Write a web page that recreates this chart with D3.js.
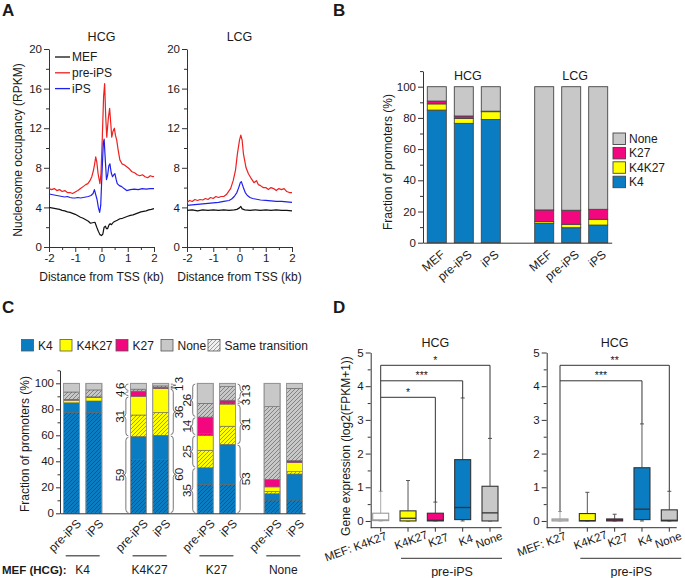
<!DOCTYPE html>
<html><head><meta charset="utf-8">
<script src="https://cdn.jsdelivr.net/npm/d3@7"></script>
<style>
body{margin:0;background:#fff;}
svg{font-family:"Liberation Sans",Arial,Helvetica,sans-serif;}
</style></head><body>
<svg id="chart" width="685" height="578"></svg>
<script>
// ---------------- DATA ----------------
// Panel A: nucleosome occupancy profiles [distance kb, RPKM]
const hcgMEF = [[-2,4.0],[-1.9,3.95],[-1.8,3.9],[-1.7,3.85],[-1.6,3.8],[-1.5,3.7],[-1.4,3.65],[-1.3,3.55],[-1.2,3.5],[-1.1,3.4],[-1.0,3.3],[-0.9,3.15],[-0.8,3.0],[-0.7,2.9],[-0.6,2.75],[-0.5,2.6],[-0.42,2.4],[-0.34,2.45],[-0.25,2.5],[-0.18,2.0],[-0.12,1.6],[-0.06,1.25],[0,1.15],[0.05,1.3],[0.1,2.0],[0.15,2.1],[0.19,1.85],[0.23,1.85],[0.28,2.2],[0.33,2.35],[0.38,2.25],[0.45,2.5],[0.52,2.6],[0.6,2.7],[0.7,2.85],[0.8,2.9],[0.9,3.0],[1.0,3.1],[1.1,3.2],[1.2,3.25],[1.3,3.35],[1.4,3.45],[1.5,3.55],[1.6,3.6],[1.7,3.65],[1.8,3.75],[1.9,3.8],[2.0,3.87]];
const hcgPre = [[-2,5.9],[-1.9,5.8],[-1.8,5.9],[-1.7,5.7],[-1.6,5.8],[-1.5,5.6],[-1.4,5.7],[-1.3,5.5],[-1.2,5.5],[-1.1,5.4],[-1.0,5.55],[-0.9,5.7],[-0.8,5.9],[-0.7,6.1],[-0.6,6.3],[-0.52,6.4],[-0.44,6.7],[-0.37,7.1],[-0.31,7.7],[-0.26,8.4],[-0.22,9.1],[-0.18,8.6],[-0.13,7.4],[-0.06,6.4],[-0.02,7.4],[0.03,11.0],[0.08,15.2],[0.12,16.5],[0.16,13.2],[0.2,11.1],[0.26,13.0],[0.31,14.0],[0.35,12.6],[0.39,11.1],[0.44,11.7],[0.49,12.0],[0.53,11.3],[0.58,10.8],[0.64,9.7],[0.7,8.8],[0.78,8.4],[0.86,8.3],[0.96,8.1],[1.06,7.9],[1.16,7.6],[1.26,7.5],[1.36,7.3],[1.46,7.2],[1.56,7.3],[1.66,7.1],[1.76,7.0],[1.86,7.2],[1.96,7.1],[2.0,7.15]];
const hcgIPS = [[-2,5.35],[-1.9,5.3],[-1.8,5.25],[-1.7,5.2],[-1.6,5.15],[-1.5,5.1],[-1.4,5.05],[-1.3,5.1],[-1.2,5.0],[-1.1,4.95],[-1.0,4.95],[-0.9,5.0],[-0.8,4.95],[-0.7,5.0],[-0.6,5.05],[-0.5,5.1],[-0.4,5.2],[-0.32,5.4],[-0.27,5.8],[-0.22,5.3],[-0.17,4.8],[-0.12,4.0],[-0.07,3.5],[-0.03,4.2],[0.02,7.5],[0.07,10.5],[0.1,10.9],[0.14,9.0],[0.19,6.8],[0.23,7.2],[0.28,8.2],[0.32,8.4],[0.37,7.5],[0.42,7.1],[0.47,7.3],[0.51,7.4],[0.56,6.8],[0.6,6.4],[0.68,6.2],[0.77,6.1],[0.86,5.9],[0.96,5.7],[1.1,5.8],[1.25,5.85],[1.4,5.8],[1.55,5.9],[1.7,5.85],[1.85,5.9],[2.0,5.9]];
const lcgMEF = [[-2,3.7],[-1.8,3.75],[-1.6,3.65],[-1.4,3.75],[-1.2,3.7],[-1.0,3.75],[-0.8,3.7],[-0.6,3.75],[-0.4,3.7],[-0.2,3.75],[-0.1,3.8],[0,3.95],[0.05,4.1],[0.1,3.85],[0.2,3.75],[0.4,3.7],[0.6,3.75],[0.8,3.7],[1.0,3.75],[1.2,3.7],[1.4,3.75],[1.6,3.7],[1.8,3.7],[2.0,3.65]];
const lcgPre = [[-2,4.5],[-1.9,4.7],[-1.8,4.6],[-1.7,4.8],[-1.6,4.7],[-1.5,4.8],[-1.4,4.75],[-1.3,4.9],[-1.2,4.8],[-1.1,5.0],[-1.0,4.9],[-0.9,5.1],[-0.8,5.0],[-0.7,5.1],[-0.6,5.1],[-0.5,5.3],[-0.42,5.6],[-0.34,5.9],[-0.24,6.7],[-0.15,7.8],[-0.08,9.4],[0.0,10.8],[0.05,11.3],[0.1,10.8],[0.15,9.4],[0.25,8.0],[0.34,7.4],[0.45,6.9],[0.55,6.5],[0.65,6.7],[0.72,6.3],[0.8,6.2],[0.9,6.0],[1.0,6.0],[1.1,5.8],[1.2,6.0],[1.3,5.9],[1.4,5.7],[1.5,5.9],[1.6,5.8],[1.7,5.9],[1.8,5.6],[1.9,5.5],[2.0,5.5]];
const lcgIPS = [[-2,4.2],[-1.8,4.25],[-1.6,4.3],[-1.4,4.35],[-1.2,4.4],[-1.0,4.45],[-0.8,4.5],[-0.6,4.6],[-0.4,4.7],[-0.3,4.85],[-0.2,5.1],[-0.1,5.5],[-0.03,6.0],[0.03,6.5],[0.07,6.6],[0.11,6.3],[0.16,5.9],[0.22,5.5],[0.3,5.2],[0.4,5.0],[0.5,4.9],[0.6,4.85],[0.8,4.75],[1.0,4.7],[1.2,4.65],[1.4,4.6],[1.6,4.6],[1.8,4.55],[2.0,4.5]];
const aSeriesNames = ["MEF","pre-iPS","iPS"];
const aXTicks = [-2,-1,0,1,2];
const aYTicks = [0,4,8,12,16,20];

// Panel B: fraction of promoters (%)
const bGroups = ["HCG","LCG"];
const bSamples = ["MEF","pre-iPS","iPS"];
const bHcgK4 = [85, 76.5, 79];
const bHcgK4K27 = [4, 3.2, 5];
const bHcgK27 = [1.8, 1.5, 0.3];
const bHcgNone = [9.2, 18.8, 15.7];
const bLcgK4 = [12.4, 9.6, 11.3];
const bLcgK4K27 = [1.1, 2.2, 3.7];
const bLcgK27 = [7.5, 9.0, 6.4];
const bLcgNone = [79.0, 79.2, 78.6];
const bLegend = ["None","K27","K4K27","K4"];
const bYTicks = [0,20,40,60,80,100];

// Panel C: transitions of MEF (HCG) states; bars: group x sample
const cGroups = ["K4","K4K27","K27","None"];
const cSamples = ["pre-iPS","iPS"];
// order: K4/pre, K4/iPS, K4K27/pre, K4K27/iPS, K27/pre, K27/iPS, None/pre, None/iPS
const cK4Hatched   = [77.7, 77.7, 41.5, 41.5, 22.3, 22.3, 10.2, 10.2];
const cK4Solid     = [7.3, 8.7, 17.5, 18.5, 12.7, 30.7, 4.8, 20.0];
const cK4K27Hatched= [0, 0, 16.6, 17.5, 13.5, 14.0, 1.8, 1.8];
const cK4K27Solid  = [2.0, 2.8, 14.4, 18.5, 11.5, 17.0, 3.5, 7.0];
const cK27Hatched  = [0, 0, 0, 0.5, 1.5, 0.8, 0, 0];
const cK27Solid    = [0.7, 0.4, 4.0, 0.5, 12.5, 2.2, 5.8, 1.5];
const cNoneHatched = [5.6, 5.3, 1.5, 1.0, 10.6, 10.4, 55.9, 55.6];
const cNoneSolid   = [6.7, 5.1, 4.5, 2.0, 15.4, 2.6, 18.0, 3.9];
const cLegend = ["K4","K4K27","K27","None","Same transition"];
const cYTicks = [0,20,40,60,80,100];
// brace annotations (percent per state K4, K4K27, K27, None)
const cBraceGroup  = ["K4K27","K4K27","K27","K27"];
const cBraceSample = ["pre-iPS","iPS","pre-iPS","iPS"];
const cBraceValues = [[59,31,4,6],[60,36,1,3],[35,25,14,26],[53,31,3,13]];

// Panel D: gene expression box plots log2(FPKM+1)
const dLeftCats  = ["MEF: K4K27","K4K27","K27","K4","None"];
const dLeftMin   = [0, 0, 0, 0, 0];
const dLeftQ1    = [0.01, 0.0, 0.0, 0.04, 0.0];
const dLeftMed   = [0.03, 0.08, 0.02, 0.4, 0.24];
const dLeftQ3    = [0.23, 0.3, 0.23, 1.82, 1.03];
const dLeftMax   = [0.88, 1.2, 0.56, 3.65, 2.45];
const dLeftSigTo = ["K27","K4","None"];
const dLeftSigY  = [3.67, 4.16, 4.62];
const dLeftSigLab= ["*","***","*"];
const dRightCats = ["MEF: K27","K4K27","K27","K4","None"];
const dRightMin  = [0, 0, 0, 0, 0];
const dRightQ1   = [0.0, 0.0, 0.0, 0.04, 0.0];
const dRightMed  = [0.03, 0.01, 0.03, 0.35, 0.02];
const dRightQ3   = [0.06, 0.22, 0.06, 1.58, 0.33];
const dRightMax  = [0.28, 0.85, 0.2, 2.88, 0.88];
const dRightSigTo = ["K4","None"];
const dRightSigY  = [4.16, 4.62];
const dRightSigLab= ["***","**"];
const dYTicks = [0,1,2,3,4,5];

// ---------------- STYLE ----------------
const FONT = '"Liberation Sans", Arial, Helvetica, sans-serif';
const TXT = "#1a1a1a";
const C_K4 = "#0a7dc2", C_Y = "#ffff00", C_M = "#f2077e", C_N = "#c8c8c8";
const svg = d3.select("#chart");
const defs = svg.append("defs");
const pat = defs.append("pattern").attr("id","hatch").attr("patternUnits","userSpaceOnUse")
  .attr("width",4).attr("height",4);
pat.append("path").attr("d","M-1,1 l2,-2 M0,4 l4,-4 M3,5 l2,-2")
  .attr("stroke","#222").attr("stroke-opacity",0.6).attr("stroke-width",0.7);
const patG = defs.append("pattern").attr("id","hatchL").attr("patternUnits","userSpaceOnUse")
  .attr("width",4).attr("height",4);
patG.append("rect").attr("width",4).attr("height",4).attr("fill","#f0f0f0");
patG.append("path").attr("d","M-1,1 l2,-2 M0,4 l4,-4 M3,5 l2,-2")
  .attr("stroke","#777").attr("stroke-width",0.7);

function axis(orient, scale, pos, major, minor, fmt, ms=5, mn=3) {
  const mk = () => orient === "left" ? d3.axisLeft(scale) : d3.axisBottom(scale);
  const tr = orient === "left" ? `translate(${pos},0)` : `translate(0,${pos})`;
  if (minor && minor.length) {
    const g2 = svg.append("g").attr("transform", tr)
      .call(mk().tickValues(minor).tickSize(mn).tickSizeOuter(0).tickFormat(""));
    g2.select(".domain").remove();
    g2.selectAll("line").attr("stroke","#333");
  }
  const g = svg.append("g").attr("transform", tr)
    .call(mk().tickValues(major).tickSize(ms).tickSizeOuter(0).tickPadding(2).tickFormat(fmt));
  g.attr("font-family", FONT).attr("font-size", 11.5);
  g.selectAll("text").attr("fill", TXT);
  g.selectAll("line,path").attr("stroke","#333");
  return g;
}
function text(x, y, s, opt={}) {
  const t = svg.append("text").attr("x",x).attr("y",y).text(s)
    .attr("font-size", opt.size || 12).attr("fill", TXT)
    .attr("text-anchor", opt.anchor || "middle");
  if (opt.bold) t.attr("font-weight","bold");
  if (opt.rot !== undefined) t.attr("transform", `rotate(${opt.rot},${x},${y})`);
  if (opt.dy) t.attr("dy", opt.dy);
  return t;
}

// Panel letters
text(2,16,"A",{size:17,bold:true,anchor:"start"});
text(333,16,"B",{size:17,bold:true,anchor:"start"});
text(2,313,"C",{size:17,bold:true,anchor:"start"});
text(333,313,"D",{size:17,bold:true,anchor:"start"});

// ---------------- PANEL A ----------------
const aColors = ["#111","#ee2020","#2020ee"];
function profile(x0, title, series, legend) {
  const x = d3.scaleLinear().domain([-2,2]).range([x0, x0+105]);
  const y = d3.scaleLinear().domain([0,20]).range([247,49]);
  axis("bottom", x, 247, aXTicks, [-1.5,-0.5,0.5,1.5], d=>String(d));
  axis("left", y, x0, aYTicks, [2,6,10,14,18], d=>String(d));
  const line = d3.line().x(d=>x(d[0])).y(d=>y(d[1]));
  series.forEach((s,i)=>{
    svg.append("path").datum(s).attr("d",line).attr("fill","none")
      .attr("stroke",aColors[i]).attr("stroke-width",1.2).attr("stroke-linejoin","round");
  });
  text(x(0), 41, title, {size:12.5});
  text(x(0), 281, "Distance from TSS (kb)", {size:12});
  if (legend) {
    aSeriesNames.forEach((n,i)=>{
      const yy = 57 + i*15.8;
      svg.append("line").attr("x1",x0+6).attr("x2",x0+21).attr("y1",yy).attr("y2",yy)
        .attr("stroke",aColors[i]).attr("stroke-width",1.3);
      text(x0+23, yy, n, {size:12, anchor:"start", dy:"0.35em"});
    });
  }
}
profile(49, "HCG", [hcgMEF, hcgPre, hcgIPS], true);
profile(187, "LCG", [lcgMEF, lcgPre, lcgIPS], false);
text(18, 150, "Nucleosome occupancy (RPKM)", {size:12, rot:-90, dy:"0.35em"});

// ---------------- PANEL B ----------------
(function(){
  const y = d3.scaleLinear().domain([0,110]).range([242.7, 71.1]);
  const gx = d3.scalePoint().domain(bGroups).range([463.8, 571.2]);
  const sx = d3.scalePoint().domain(bSamples).range([-27, 27]);
  const bw = 19;
  const rows = [];
  bGroups.forEach(g=>bSamples.forEach((s,i)=>{
    const src = g==="HCG" ? [bHcgK4,bHcgK4K27,bHcgK27,bHcgNone] : [bLcgK4,bLcgK4K27,bLcgK27,bLcgNone];
    rows.push({g, s, K4:src[0][i], K4K27:src[1][i], K27:src[2][i], None:src[3][i]});
  }));
  const keys = ["K4","K4K27","K27","None"];
  const col = {K4:C_K4, K4K27:C_Y, K27:C_M, None:C_N};
  const st = d3.stack().keys(keys)(rows);
  st.forEach(layer=>{
    svg.append("g").selectAll("rect").data(layer).join("rect")
      .attr("x", d=>gx(d.data.g)+sx(d.data.s)-bw/2).attr("width", bw)
      .attr("y", d=>y(d[1])).attr("height", d=>y(d[0])-y(d[1]))
      .attr("fill", col[layer.key]).attr("stroke","#444").attr("stroke-width",0.9);
  });
  axis("bottom", d3.scaleLinear().domain([0,1]).range([423, 611.7]), 242.7, [], [], d=>"");
  axis("left", y, 423, bYTicks, [10,30,50,70,90,110], d=>String(d));
  bGroups.forEach(g=> text(gx(g)+4, 80, g, {size:12.5}));
  rows.forEach(r=>{
    const cx = gx(r.g)+sx(r.s);
    svg.append("text").text(r.s).attr("font-size",12).attr("fill",TXT)
      .attr("text-anchor","end").attr("dy","0.75em")
      .attr("transform",`translate(${cx+3},249) rotate(-40)`);
  });
  bLegend.forEach((n,i)=>{
    const yy = 133 + i*14.4;
    svg.append("rect").attr("x",613).attr("y",yy).attr("width",12.5).attr("height",11.5)
      .attr("fill", col[n]).attr("stroke","#444").attr("stroke-width",0.9);
    text(629, yy+5.75, n, {size:12, anchor:"start", dy:"0.36em"});
  });
  text(388, 162, "Fraction of promoters (%)", {size:12, rot:-90, dy:"0.35em"});
})();

// ---------------- PANEL C ----------------
(function(){
  const y = d3.scaleLinear().domain([0,110]).range([513.3, 370.3]);
  const gx = d3.scalePoint().domain(cGroups).range([82.7, 283.3]);
  const sx = d3.scalePoint().domain(cSamples).range([-11.2, 11.2]);
  const bw = 16;
  const rows = [];
  cGroups.forEach((g,gi)=>cSamples.forEach((s,si)=>{
    const i = gi*2+si;
    rows.push({g, s, k4h:cK4Hatched[i], k4s:cK4Solid[i], yh:cK4K27Hatched[i], ys:cK4K27Solid[i],
      mh:cK27Hatched[i], ms:cK27Solid[i], nh:cNoneHatched[i], ns:cNoneSolid[i]});
  }));
  const keys = ["k4h","k4s","yh","ys","mh","ms","nh","ns"];
  const col = {k4h:C_K4,k4s:C_K4,yh:C_Y,ys:C_Y,mh:C_M,ms:C_M,nh:C_N,ns:C_N};
  const st = d3.stack().keys(keys)(rows);
  st.forEach(layer=>{
    const data = layer.filter(d=>d[1]-d[0]>0);
    const gsel = svg.append("g");
    gsel.selectAll("rect.f").data(data).join("rect").attr("class","f")
      .attr("x", d=>gx(d.data.g)+sx(d.data.s)-bw/2).attr("width", bw)
      .attr("y", d=>y(d[1])).attr("height", d=>y(d[0])-y(d[1]))
      .attr("fill", col[layer.key]).attr("stroke","#666").attr("stroke-width",0.6);
    if (layer.key.endsWith("h")) {
      gsel.selectAll("rect.h").data(data).join("rect").attr("class","h")
        .attr("x", d=>gx(d.data.g)+sx(d.data.s)-bw/2).attr("width", bw)
        .attr("y", d=>y(d[1])).attr("height", d=>y(d[0])-y(d[1]))
        .attr("fill", "url(#hatch)");
    }
  });
  // bar outlines
  svg.append("g").selectAll("rect").data(rows).join("rect")
    .attr("x", d=>gx(d.g)+sx(d.s)-bw/2).attr("width", bw)
    .attr("y", y(100)).attr("height", y(0)-y(100))
    .attr("fill","none").attr("stroke","#999").attr("stroke-width",0.8);
  axis("bottom", d3.scaleLinear().domain([0,1]).range([60, 305]), 513.3, [], [], d=>"");
  axis("left", y, 60, cYTicks, [10,30,50,70,90,110], d=>String(d), 4, 2.5);
  rows.forEach(r=>{
    const cx = gx(r.g)+sx(r.s);
    svg.append("text").text(r.s).attr("font-size",12).attr("fill",TXT)
      .attr("text-anchor","end").attr("dy","0.75em")
      .attr("transform",`translate(${cx+4},518) rotate(-45)`);
  });
  cGroups.forEach(g=>{
    svg.append("line").attr("x1",gx(g)-17).attr("x2",gx(g)+17).attr("y1",555.7).attr("y2",555.7)
      .attr("stroke","#666").attr("stroke-width",1.5);
    text(gx(g), 574, g, {size:12});
  });
  text(2, 574, "MEF (HCG):", {size:11.5, bold:true, anchor:"start"});
  // braces
  cBraceValues.forEach((vals,bi)=>{
    const g = cBraceGroup[bi], s = cBraceSample[bi];
    const dir = s==="pre-iPS" ? -1 : 1;
    const edge = gx(g)+sx(s) + dir*bw/2;
    const xb = edge + dir*2;
    const w = 5;
    let cum = 0;
    const labels = [];
    vals.forEach(v=>{
      const y0 = y(cum+v)+0.8, y1 = y(cum)-0.8;
      const xm = xb+dir*w/2, xt = xb+dir*w, ym=(y0+y1)/2, r=Math.min(3,(y1-y0)/4);
      svg.append("path").attr("d",
        `M${xb},${y0} Q${xm},${y0} ${xm},${y0+r} L${xm},${ym-r} Q${xm},${ym} ${xt},${ym} Q${xm},${ym} ${xm},${ym+r} L${xm},${y1-r} Q${xm},${y1} ${xb},${y1}`)
        .attr("fill","none").attr("stroke","#555").attr("stroke-width",0.8);
      labels.push({v, c:ym, len:String(v).length*6.4});
      cum += v;
    });
    for (let i=1;i<labels.length;i++){
      const minGap = labels[i-1].len/2 + labels[i].len/2 + 1.5;
      if (labels[i].c > labels[i-1].c - minGap) labels[i].c = labels[i-1].c - minGap;
    }
    labels.forEach(l=>{
      const lx = edge + dir*10.5;
      svg.append("text").text(l.v).attr("font-size",11.5).attr("fill",TXT)
        .attr("text-anchor","middle").attr("dy","0.35em")
        .attr("transform",`translate(${lx},${l.c}) rotate(-90)`);
    });
  });
  // legend
  const lx = [21.5, 60, 116, 161, 208];
  const lfill = [C_K4, C_Y, C_M, C_N, "url(#hatchL)"];
  cLegend.forEach((n,i)=>{
    svg.append("rect").attr("x",lx[i]).attr("y",339.5).attr("width",12).attr("height",11.5)
      .attr("fill",lfill[i]).attr("stroke","#555").attr("stroke-width",0.8);
    text(lx[i]+16.5, 345.25, n, {size:12, anchor:"start", dy:"0.36em"});
  });
  text(25, 444, "Fraction of promoters (%)", {size:12, rot:-90, dy:"0.35em"});
})();

// ---------------- PANEL D ----------------
const dColors = ["#ffffff", C_Y, C_M, C_K4, C_N];
function boxPanel(ax, xr, axEnd, cats, mn, q1, md, q3, mx, sigTo, sigY, sigLab) {
  const y = d3.scaleLinear().domain([-0.2,5]).range([527.7, 352.5]);
  const x = d3.scalePoint().domain(cats).range(xr);
  axis("left", y, ax, dYTicks, [0.5,1.5,2.5,3.5,4.5], d=>String(d));
  const bx = svg.append("g").attr("transform","translate(0,527.7)");
  bx.append("line").attr("x1",ax).attr("x2",axEnd).attr("stroke","#333");
  bx.selectAll("line.t").data(cats).join("line").attr("class","t")
    .attr("x1",d=>x(d)).attr("x2",d=>x(d)).attr("y1",0).attr("y2",4).attr("stroke","#333");
  const bw = 16;
  cats.forEach((c,i)=>{
    const cx = x(c);
    const light = i===0;
    const ws = light ? "#aaa" : "#555";
    const bs = light ? "#999" : "#333";
    svg.append("line").attr("x1",cx).attr("x2",cx).attr("y1",y(q3[i])).attr("y2",y(mx[i])).attr("stroke",ws);
    svg.append("line").attr("x1",cx).attr("x2",cx).attr("y1",y(q1[i])).attr("y2",y(mn[i])).attr("stroke",ws);
    [mx[i], mn[i]].forEach(v=>svg.append("line").attr("x1",cx-2).attr("x2",cx+2)
      .attr("y1",y(v)).attr("y2",y(v)).attr("stroke",ws));
    svg.append("rect").attr("x",cx-bw/2).attr("width",bw).attr("y",y(q3[i]))
      .attr("height",Math.max(1.5, y(q1[i])-y(q3[i]))).attr("fill",dColors[i])
      .attr("stroke",bs).attr("stroke-width",1.1);
    svg.append("line").attr("x1",cx-bw/2).attr("x2",cx+bw/2).attr("y1",y(md[i])).attr("y2",y(md[i]))
      .attr("stroke",bs).attr("stroke-width",1.3);
  });
  // significance brackets
  const x0 = x(cats[0]);
  const topY = d3.max(sigY);
  svg.append("line").attr("x1",x0).attr("x2",x0).attr("y1",y(topY)).attr("y2",y(mx[0])).attr("stroke","#333");
  sigTo.forEach((t,k)=>{
    const xe = x(t), yy = y(sigY[k]);
    const idx = cats.indexOf(t);
    svg.append("line").attr("x1",x0).attr("x2",xe).attr("y1",yy).attr("y2",yy).attr("stroke","#333");
    svg.append("line").attr("x1",xe).attr("x2",xe).attr("y1",yy).attr("y2",y(mx[idx])).attr("stroke","#333");
    text((x0+xe)/2, yy-1.5, sigLab[k], {size:10.5});
  });
  // labels
  cats.forEach((c,i)=>{
    const cx = x(c);
    if (i===0) {
      svg.append("text").text(c).attr("font-size",11.5).attr("fill",TXT)
        .attr("text-anchor","end").attr("dy","0.75em")
        .attr("transform",`translate(${cx+4},531) rotate(-20)`);
    } else {
      const off = i===4 ? -1 : 3;
      svg.append("text").text(c).attr("font-size",11.5).attr("fill",TXT)
        .attr("text-anchor","middle").attr("dy","0.35em")
        .attr("transform",`translate(${cx+off},540) rotate(-20)`);
    }
  });
  const mid = (x(cats[1]) + x(cats[4]))/2;
  svg.append("line").attr("x1",x(cats[1])-7).attr("x2",x(cats[4])+12).attr("y1",558.3).attr("y2",558.3)
    .attr("stroke","#333").attr("stroke-width",1);
  text(mid+3, 576, "pre-iPS", {size:12.5});
  text((xr[0]+xr[1])/2, 347, "HCG", {size:12.5});
}
boxPanel(370.7, [380.7, 490], 501.7, dLeftCats, dLeftMin, dLeftQ1, dLeftMed, dLeftQ3, dLeftMax, dLeftSigTo, dLeftSigY, dLeftSigLab);
boxPanel(546.7, [560, 669.3], 676.7, dRightCats, dRightMin, dRightQ1, dRightMed, dRightQ3, dRightMax, dRightSigTo, dRightSigY, dRightSigLab);
text(346, 446, "Gene expression (log2(FPKM+1))", {size:12, rot:-90, dy:"0.35em"});
</script></body></html>
